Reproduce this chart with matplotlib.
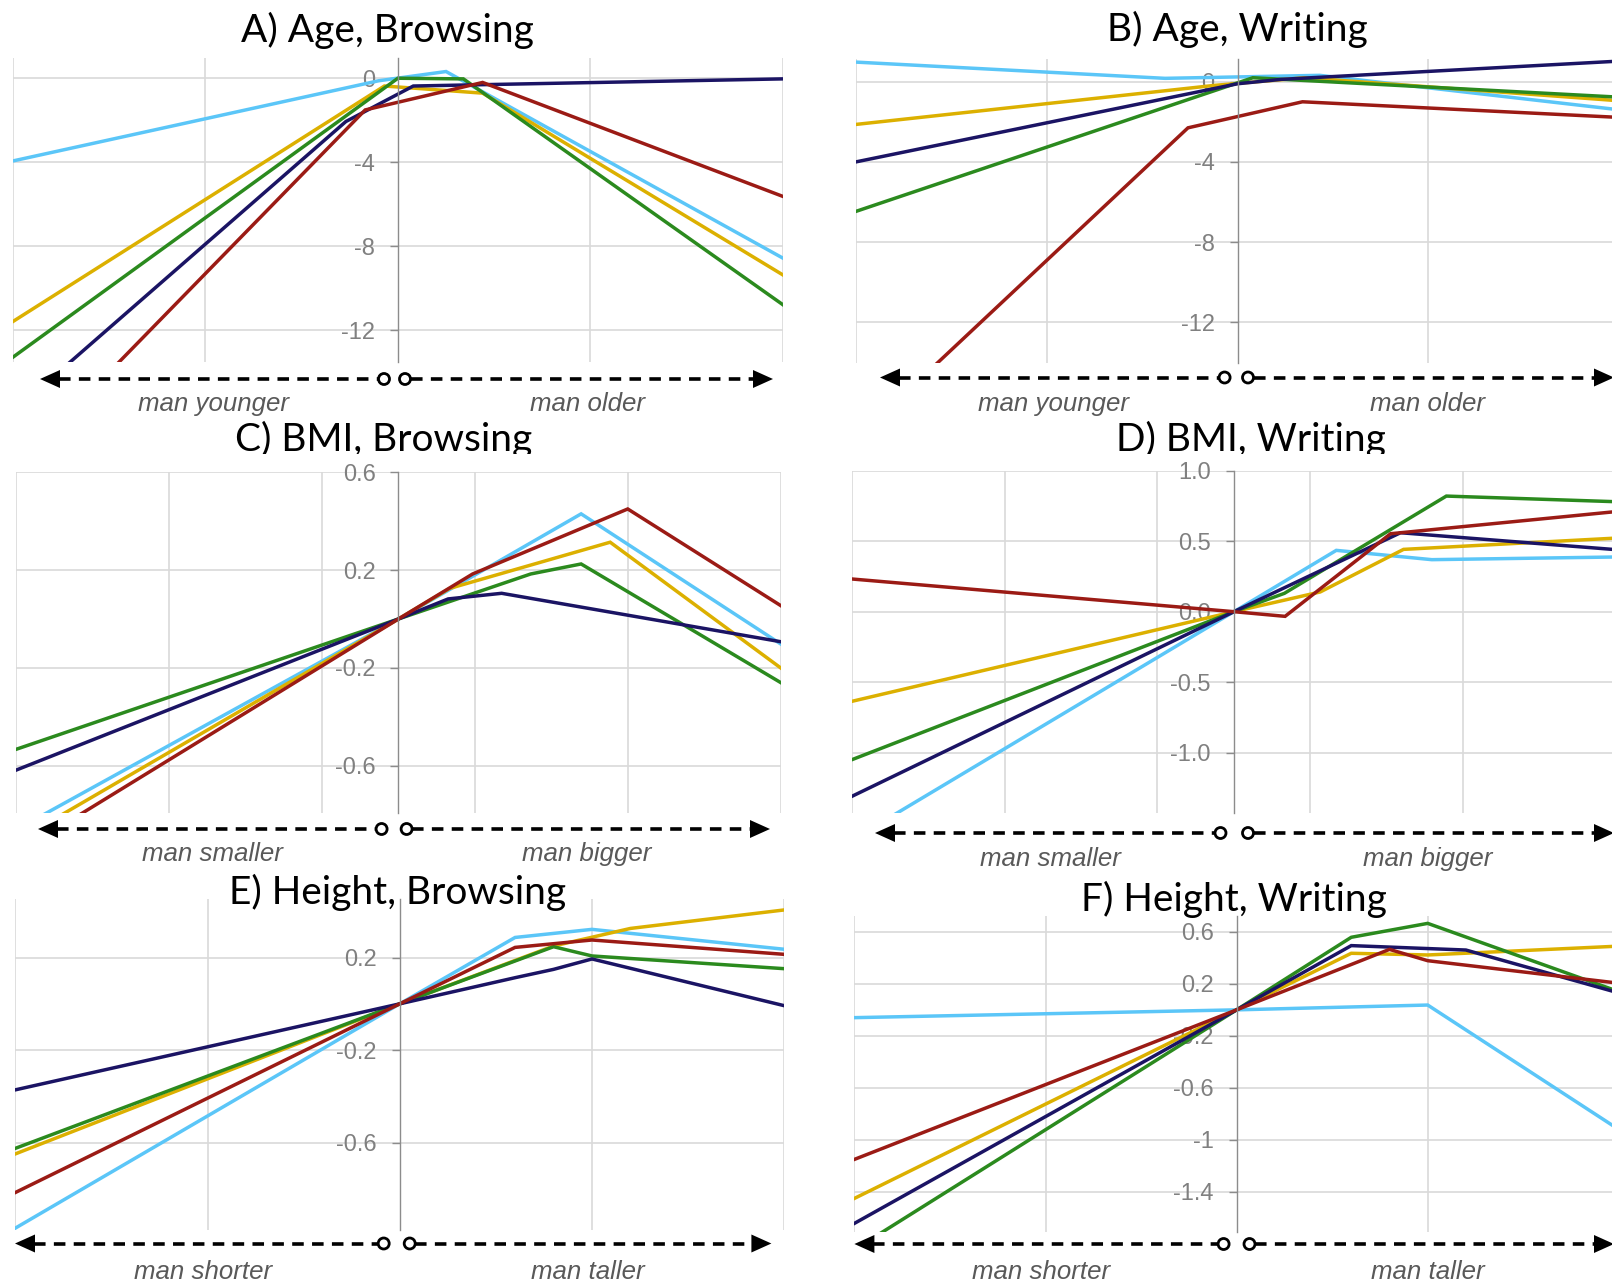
import matplotlib
matplotlib.use('Agg')
import matplotlib.pyplot as plt
from matplotlib.patches import Circle, Polygon, Rectangle

# figure size in pixels (dpi 100)
W, H = 1612, 1284

# series colours, in drawing order
colors = {'light blue': '#5bc6f8', 'gold': '#dcb000', 'green': '#2b8a1e',
          'navy': '#1b1464', 'dark red': '#9b1b15'}

# ---- data: (x values, y values) per series ----
age_browse = {
    'light blue': ([-2, -0.1, 0.25, 2], [-3.94, -0.12, 0.32, -8.57]),
    'gold':       ([-2, -0.07, 0.44, 2], [-11.59, -0.37, -0.71, -9.37]),
    'green':      ([-2, 0, 0.34, 2], [-13.29, 0, -0.03, -10.79]),
    'navy':       ([-2, -0.27, 0.08, 2], [-15.9, -2.06, -0.37, -0.03]),
    'dark red':   ([-2, -0.17, 0.44, 2], [-18.7, -1.51, -0.2, -5.63]),
}
age_write = {
    'light blue': ([-2, -0.38, 0.43, 2], [0.98, 0.17, 0.32, -1.4]),
    'gold':       ([-2, -0.12, 0.35, 2], [-2.13, -0.18, 0.2, -0.95]),
    'green':      ([-2, 0.08, 2], [-6.47, 0.2, -0.77]),
    'navy':       ([-2, 0, 0.23, 2], [-4.0, -0.1, 0.12, 1.03]),
    'dark red':   ([-2, -0.26, 0.34, 2], [-17.85, -2.3, -1.0, -1.78]),
}
bmi_browse = {
    'light blue': ([-5, 0, 2.39, 5], [-0.862, 0, 0.43, -0.102]),
    'gold':       ([-5, 0, 0.67, 2.77, 5], [-0.909, 0, 0.125, 0.314, -0.2]),
    'green':      ([-5, 0, 1.73, 2.39, 5], [-0.533, 0, 0.184, 0.225, -0.26]),
    'navy':       ([-5, 0, 0.65, 1.35, 5], [-0.618, 0, 0.082, 0.105, -0.093]),
    'dark red':   ([-5, 0, 0.97, 3.0, 5], [-0.96, 0, 0.184, 0.45, 0.055]),
}
bmi_write = {
    'light blue': ([-5, 0, 1.34, 2.59, 5], [-1.62, 0, 0.435, 0.369, 0.388]),
    'gold':       ([-5, 0, 1.13, 2.22, 5], [-0.636, 0, 0.14, 0.442, 0.522]),
    'green':      ([-5, 0, 0.66, 2.78, 5], [-1.05, 0, 0.13, 0.82, 0.78]),
    'navy':       ([-5, 0, 2.18, 5], [-1.31, 0, 0.56, 0.44]),
    'dark red':   ([-5, 0, 0.67, 2.05, 5], [0.232, 0, -0.033, 0.553, 0.71]),
}
height_browse = {
    'light blue': ([-2, 0, 0.6, 1.0, 2], [-0.97, 0, 0.287, 0.322, 0.236]),
    'gold':       ([-2, 0, 0.8, 1.2, 2], [-0.649, 0, 0.25, 0.326, 0.406]),
    'green':      ([-2, 0, 0.8, 1.0, 2], [-0.625, 0, 0.247, 0.207, 0.152]),
    'navy':       ([-2, 0, 0.6, 0.8, 1.0, 2], [-0.372, 0, 0.113, 0.149, 0.194, -0.008]),
    'dark red':   ([-2, 0, 0.6, 1.0, 2], [-0.816, 0, 0.244, 0.276, 0.214]),
}
height_write = {
    'light blue': ([-2, 0, 1.0, 2], [-0.06, 0, 0.037, -0.92]),
    'gold':       ([-2, 0, 0.6, 1.0, 2], [-1.45, 0, 0.435, 0.422, 0.49]),
    'green':      ([-2, 0, 0.6, 1.0, 2], [-1.844, 0, 0.558, 0.665, 0.14]),
    'navy':       ([-2, 0, 0.6, 1.2, 2], [-1.642, 0, 0.494, 0.46, 0.13]),
    'dark red':   ([-2, 0, 0.8, 1.0, 2], [-1.15, 0, 0.465, 0.378, 0.205]),
}

# tick values and labels
age_yticks = [0, -4, -8, -12]
age_ylabels = ['0', '-4', '-8', '-12']
bmi_b_yticks = [0.6, 0.2, -0.2, -0.6]
bmi_b_ylabels = ['0.6', '0.2', '-0.2', '-0.6']
bmi_w_yticks = [1.0, 0.5, 0.0, -0.5, -1.0]
bmi_w_ylabels = ['1.0', '0.5', '0.0', '-0.5', '-1.0']
height_b_yticks = [0.2, -0.2, -0.6]
height_b_ylabels = ['0.2', '-0.2', '-0.6']
height_w_yticks = [0.6, 0.2, -0.2, -0.6, -1, -1.4]
height_w_ylabels = ['0.6', '0.2', '-0.2', '-0.6', '-1', '-1.4']
narrow_xgrid = [-2, -1, 1, 2]
wide_xgrid = [-5, -3, -1, 1, 3, 5]

panels = [
    dict(title='A) Age, Browsing', data=age_browse, yt=age_yticks, yl=age_ylabels,
         xg=narrow_xgrid, xlim=(-2, 2), ylim=(-13.5, 0.95),
         words=('man younger', 'man older')),
    dict(title='B) Age, Writing', data=age_write, yt=age_yticks, yl=age_ylabels,
         xg=narrow_xgrid, xlim=(-2, 2), ylim=(-14.05, 1.12),
         words=('man younger', 'man older')),
    dict(title='C) BMI, Browsing', data=bmi_browse, yt=bmi_b_yticks, yl=bmi_b_ylabels,
         xg=wide_xgrid, xlim=(-5, 5), ylim=(-0.795, 0.6),
         words=('man smaller', 'man bigger')),
    dict(title='D) BMI, Writing', data=bmi_write, yt=bmi_w_yticks, yl=bmi_w_ylabels,
         xg=wide_xgrid, xlim=(-5, 5), ylim=(-1.43, 1.0),
         words=('man smaller', 'man bigger')),
    dict(title='E) Height, Browsing', data=height_browse, yt=height_b_yticks, yl=height_b_ylabels,
         xg=narrow_xgrid, xlim=(-2, 2), ylim=(-0.978, 0.452),
         words=('man shorter', 'man taller')),
    dict(title='F) Height, Writing', data=height_write, yt=height_w_yticks, yl=height_w_ylabels,
         xg=narrow_xgrid, xlim=(-2, 2), ylim=(-1.706, 0.724),
         words=('man shorter', 'man taller')),
]

# pixel layout: plot box (l, r, t, b), title (x, baseline), arrow (y, tip, circ, circ, tip),
# words (x1, x2, baseline), clip band under title (or None)
layout = [
    dict(box=(12.8, 783, 58.3, 361.7), title=(387.5, 41.7), arrow=(379, 40, 384, 405, 773),
         words=(214, 587, 411), clip=None),
    dict(box=(855.9, 1619.3, 59.3, 363.3), title=(1237, 41.5), arrow=(377.5, 880, 1224.6, 1248, 1614),
         words=(1054, 1428, 411), clip=None),
    dict(box=(16.3, 780.6, 472.3, 813.3), title=(384, 451), arrow=(829, 38, 381.6, 406.6, 770),
         words=(212, 587, 861), clip=(200, 580, 453.5, 462)),
    dict(box=(851.8, 1616, 470.7, 813.3), title=(1251, 451), arrow=(833, 875, 1220.5, 1248, 1614),
         words=(1050, 1428, 866), clip=(1060, 1440, 453.5, 461)),
    dict(box=(15.3, 784.2, 899.3, 1230), title=(398, 903.6), arrow=(1243.5, 15, 383.7, 409.7, 771.4),
         words=(203, 587.5, 1279), clip=None),
    dict(box=(854.4, 1618.8, 915.7, 1231.7), title=(1234, 911), arrow=(1244, 854.4, 1223.6, 1249.5, 1614),
         words=(1041, 1428, 1279), clip=None),
]

fig = plt.figure(figsize=(W / 100, H / 100), dpi=100)
fig.patch.set_facecolor('white')

for p, lay in zip(panels, layout):
    l, r, t, b = lay['box']
    ax = fig.add_axes([l / W, 1 - b / H, (r - l) / W, (b - t) / H])
    for name, (xs, ys) in p['data'].items():
        ax.plot(xs, ys, color=colors[name], lw=2.5, solid_joinstyle='miter')
    ax.set_xlim(*p['xlim'])
    ax.set_ylim(*p['ylim'])
    ax.set_axisbelow(True)
    for s in ['top', 'right', 'bottom']:
        ax.spines[s].set_visible(False)
    ax.spines['left'].set_position(('data', 0))
    ax.spines['left'].set_color('#8c8c8c')
    ax.spines['left'].set_linewidth(1.0)
    ax.set_xticks(p['xg'])
    ax.tick_params(axis='x', length=0, labelbottom=False)
    ax.set_yticks(p['yt'])
    ax.set_yticklabels(p['yl'])
    ax.tick_params(axis='y', direction='out', length=5.5, width=1.0, color='#8c8c8c',
                   pad=11, labelsize=17, labelcolor='#808080')
    for lab in ax.get_yticklabels():
        lab.set_family('Liberation Sans')
    ax.grid(True, color='#d9d9d9', lw=1.2)

# overlay in pixel coordinates for titles, arrows and direction words
ov = fig.add_axes([0, 0, 1, 1])
ov.set_xlim(0, W)
ov.set_ylim(H, 0)
ov.axis('off')
ov.patch.set_visible(False)
ov.set_zorder(10)

hl, hw, rad = 20, 9, 5.5
for p, lay in zip(panels, layout):
    tx, ty = lay['title']
    ov.text(tx, ty, p['title'], ha='center', va='baseline', fontsize=28,
            family='Lato', color='black', zorder=4)
    if lay['clip'] is not None:
        x0, x1, y0, y1 = lay['clip']
        ov.add_patch(Rectangle((x0, y0), x1 - x0, y1 - y0, fc='white', ec='none', zorder=5))

    y, lt, c1, c2, rt = lay['arrow']
    dash = dict(color='black', lw=2.6, ls=(0, (3.2, 2.3)), dash_capstyle='butt', zorder=6)
    ov.plot([lt + hl - 1, c1 - rad], [y, y], **dash)
    ov.plot([c2 + rad, rt - hl + 1], [y, y], **dash)
    ov.add_patch(Polygon([[lt, y], [lt + hl, y - hw], [lt + hl, y + hw]], closed=True,
                         fc='black', ec='none', zorder=7))
    ov.add_patch(Polygon([[rt, y], [rt - hl, y - hw], [rt - hl, y + hw]], closed=True,
                         fc='black', ec='none', zorder=7))
    for cx in (c1, c2):
        ov.add_patch(Circle((cx, y), rad, fc='white', ec='black', lw=2.0, zorder=7))

    wx1, wx2, wy = lay['words']
    for wx, word in zip((wx1, wx2), p['words']):
        ov.text(wx, wy, word, ha='center', va='baseline', fontsize=18.6, style='italic',
                family='Liberation Sans', color='#595959', zorder=6)

fig.savefig('out.png', dpi=100, facecolor='white')
